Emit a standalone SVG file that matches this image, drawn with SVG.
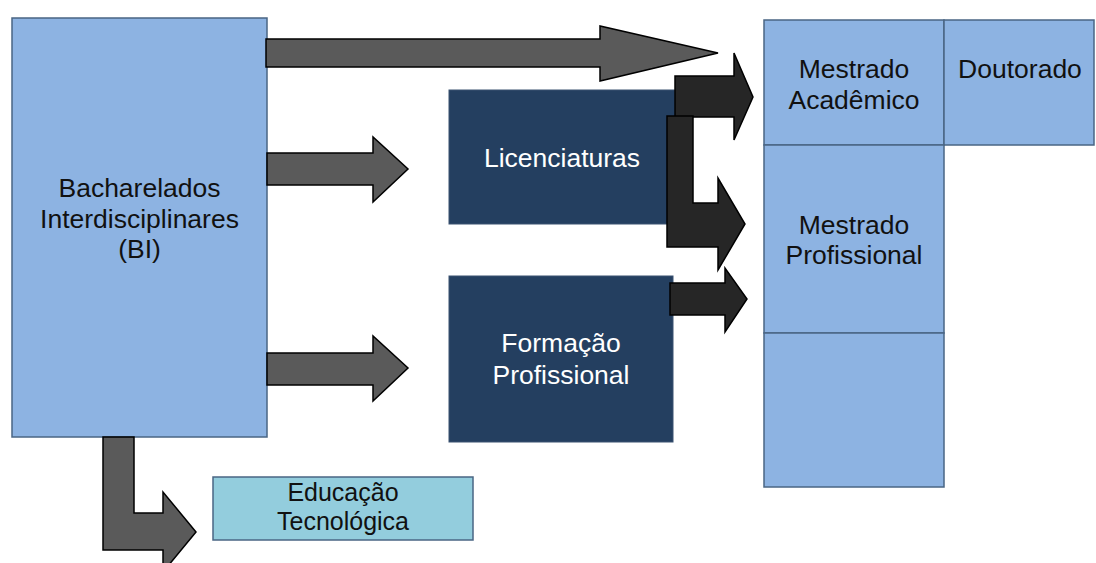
<svg xmlns="http://www.w3.org/2000/svg" width="1096" height="563" viewBox="0 0 1096 563">
<style>
.box{fill:#8DB3E2;stroke:#4A6684;stroke-width:1.5}
.navy{fill:#243F60;stroke:#3A5270;stroke-width:1}
.cyan{fill:#93CDDD;stroke:#4A6684;stroke-width:1.5}
.t{font-family:"Liberation Sans",Arial,sans-serif;font-size:26.5px;text-anchor:middle;fill:#111}
.s{font-size:25px}
.w{fill:#fff}
.ga{fill:#5A5A5A;stroke:#000;stroke-width:1.5;stroke-linejoin:miter}
.da{fill:#262626;stroke:#000;stroke-width:1.5;stroke-linejoin:miter}
</style>
<rect width="1096" height="563" fill="#fff"/>
<g id="bi">
<rect class="box" x="12" y="18" width="255" height="419"/>
<text class="t" x="139.5" y="197">Bacharelados</text>
<text class="t" x="139.5" y="228">Interdisciplinares</text>
<text class="t" x="139.5" y="258">(BI)</text>
</g>
<g id="mestrado-academico">
<rect class="box" x="764" y="20" width="180" height="125"/>
<text class="t" x="854" y="78">Mestrado</text>
<text class="t" x="854" y="109">Acadêmico</text>
</g>
<g id="doutorado">
<rect class="box" x="944" y="20" width="150" height="125"/>
<text class="t" x="1020" y="78">Doutorado</text>
</g>
<g id="mestrado-profissional">
<rect class="box" x="764" y="145" width="180" height="188"/>
<text class="t" x="854" y="234">Mestrado</text>
<text class="t" x="854" y="264">Profissional</text>
</g>
<g id="celula-vazia">
<rect class="box" x="764" y="333" width="180" height="154"/>
</g>
<g id="licenciaturas">
<rect class="navy" x="449" y="90" width="226" height="134"/>
<text class="t w" x="562" y="167">Licenciaturas</text>
</g>
<g id="formacao-profissional">
<rect class="navy" x="449" y="276" width="224" height="166"/>
<text class="t w" x="561" y="352">Formação</text>
<text class="t w" x="561" y="384">Profissional</text>
</g>
<g id="educacao-tecnologica">
<rect class="cyan" x="213" y="477" width="260" height="63"/>
<text class="t s" x="343" y="501">Educação</text>
<text class="t s" x="343" y="530">Tecnológica</text>
</g>
<g id="connectors">
<path class="ga" d="M266,39 L600,39 L600,26 L718,53 L600,81 L600,67 L266,67 Z"/>
<path class="ga" d="M267,153 L373,153 L373,137 L408,169 L373,202 L373,185 L267,185 Z"/>
<path class="ga" d="M267,353 L373,353 L373,336 L408,368 L373,401 L373,385 L267,385 Z"/>
<path class="ga" d="M103,437 L134,437 L134,513 L163,513 L163,492 L196,532 L163,572 L163,550 L103,550 Z"/>
<path class="da" d="M675,76 L734,76 L734,53 L753,97 L734,140 L734,117 L675,117 Z"/>
<path class="da" d="M667,116 L693,116 L693,203 L718,203 L718,178 L745,224 L718,270 L718,247 L667,247 Z"/>
<path class="da" d="M670,283 L725,283 L725,268 L747,299 L725,332 L725,315 L670,315 Z"/>
</g>
</svg>
